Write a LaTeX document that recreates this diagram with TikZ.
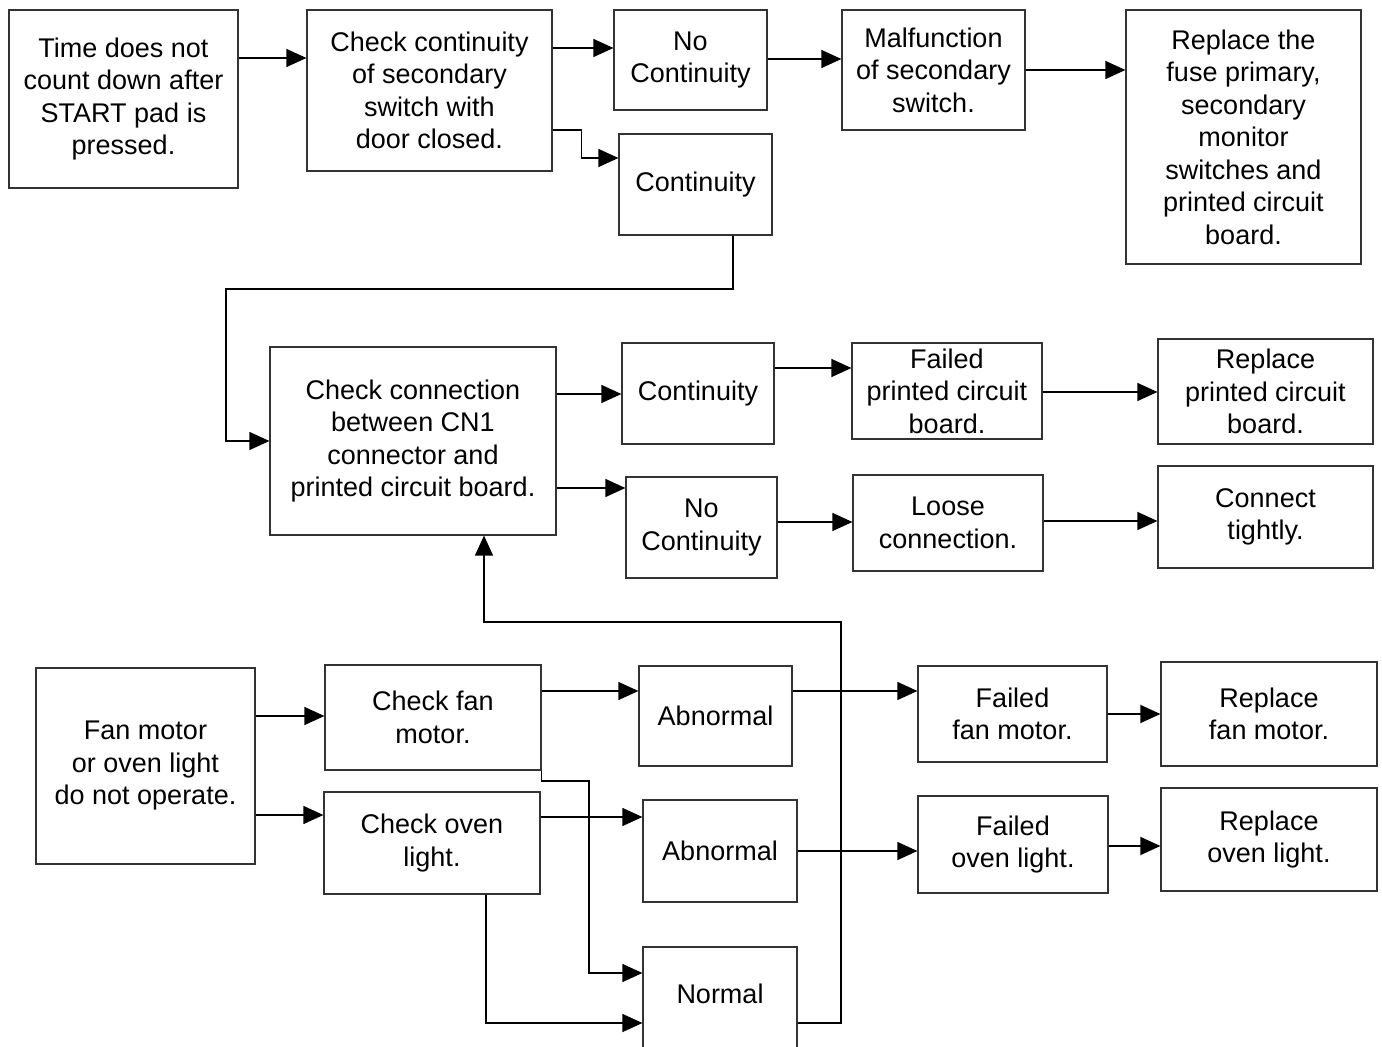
\documentclass[tikz,border=0pt]{standalone}
\usepackage{fontspec}
\setmainfont{Liberation Sans}
\usetikzlibrary{arrows.meta}
\tikzstyle{bt} = [rectangle, draw=black!80, align=center, inner sep=0pt,
    font=\fontsize{13.5}{16.25}\selectfont]

\begin{document}
\begin{tikzpicture}[->,>={Triangle[length=10pt,width=9pt]},semithick,
                    x=0.5pt,y=-0.5pt]
  \path[-,use as bounding box,clip] (0,0) rectangle (1382,1047);

  % top row
  \node[bt,minimum width=114.5pt,minimum height=89pt]   (1) at (123.5,99)   {Time does not\\count down after\\START pad is\\pressed.};
  \node[bt,minimum width=122.5pt,minimum height=80.5pt] (2) at (429.5,90.5) {Check continuity\\of secondary\\switch with\\door closed.};
  \node[bt,minimum width=76.5pt,minimum height=50pt]    (3) at (690.5,60)   {No\\Continuity};
  \node[bt,minimum width=91.5pt,minimum height=60pt]    (4) at (933.5,70)   {Malfunction\\of secondary\\switch.};
  \node[bt,minimum width=117.5pt,minimum height=127pt]  (5) at (1243.5,137)  {Replace the\\fuse primary,\\secondary\\monitor\\switches and\\printed circuit\\board.};
  \node[bt,minimum width=76.5pt,minimum height=50.5pt]  (6) at (695.5,184.5) {Continuity};

  % middle row
  \node[bt,minimum width=143pt,minimum height=94pt]     (7) at (413,441)    {Check connection\\between CN1\\connector and\\printed circuit board.};
  \node[bt,minimum width=76pt,minimum height=50.5pt]    (8) at (698,393.5)  {Continuity};
  \node[bt,minimum width=75.5pt,minimum height=50.5pt]  (9) at (701.5,527.5) {No\\Continuity};
  \node[bt,minimum width=95pt,minimum height=48pt]     (10) at (947,391)    {Failed\\printed circuit\\board.};
  \node[bt,minimum width=107.5pt,minimum height=52.5pt] (11) at (1265.5,391.5) {Replace\\printed circuit\\board.};
  \node[bt,minimum width=95pt,minimum height=48pt]     (12) at (948,523)    {Loose\\connection.};
  \node[bt,minimum width=107.5pt,minimum height=51pt]  (13) at (1265.5,517)  {Connect\\tightly.};

  % bottom row
  \node[bt,minimum width=109.5pt,minimum height=98pt]  (14) at (145.5,766)  {Fan motor\\or oven light\\do not operate.};
  \node[bt,minimum width=108pt,minimum height=52.5pt]  (15) at (433,717.5)  {Check fan\\motor.};
  \node[bt,minimum width=108pt,minimum height=51pt]    (16) at (432,843)    {Check oven\\light.};
  \node[bt,minimum width=76.5pt,minimum height=50pt]   (17) at (715.5,716)  {Abnormal};
  \node[bt,minimum width=77pt,minimum height=51pt]     (18) at (720,851)    {Abnormal};
  \node[bt,minimum width=77pt,minimum height=56.5pt,text depth=9.5pt] (19) at (720,1003.5) {Normal};
  \node[bt,minimum width=94.5pt,minimum height=48pt]   (20) at (1012.5,714) {Failed\\fan motor.};
  \node[bt,minimum width=95pt,minimum height=48.5pt]   (21) at (1013,844.5) {Failed\\oven light.};
  \node[bt,minimum width=108pt,minimum height=52pt]    (22) at (1269,714)   {Replace\\fan motor.};
  \node[bt,minimum width=108pt,minimum height=51.5pt]  (23) at (1269,839.5) {Replace\\oven light.};

  \path
  (1.east |- 0,58) edge (2.west |- 0,58)
  (2.east |- 0,48) edge (3.west |- 0,48)
  (3.east |- 0,59) edge (4.west |- 0,59)
  (4.east |- 0,70) edge (5.west |- 0,70)
  (7.east |- 0,394) edge (8.west |- 0,394)
  (7.east |- 0,488) edge (9.west |- 0,488)
  (8.east |- 0,368) edge (10.west |- 0,368)
  (9.east |- 0,522) edge (12.west |- 0,522)
  (10.east |- 0,392) edge (11.west |- 0,392)
  (12.east |- 0,521) edge (13.west |- 0,521)
  (14.east |- 0,716) edge (15.west |- 0,716)
  (14.east |- 0,815) edge (16.west |- 0,815)
  (15.east |- 0,691) edge (17.west |- 0,691)
  (16.east |- 0,817) edge (18.west |- 0,817)
  (17.east |- 0,691) edge (20.west |- 0,691)
  (18.east |- 0,851) edge (21.west |- 0,851)
  (20.east |- 0,714) edge (22.west |- 0,714)
  (21.east |- 0,846) edge (23.west |- 0,846);

  \draw (2.east |- 0,130) -- ++(29,0) |- (6.west |- 0,158);
  \draw (6.south -| 733,0) |- (226,289) |- (7.west);
  \draw (15.south east) |- (589,781) |- (19.west |- 0,973);
  \draw (16.south -| 486,0) |- (19.west |- 0,1023);
  \draw (19.east |- 0,1023) -| (841,622) -| (7.south -| 484,0);
\end{tikzpicture}
\end{document}
